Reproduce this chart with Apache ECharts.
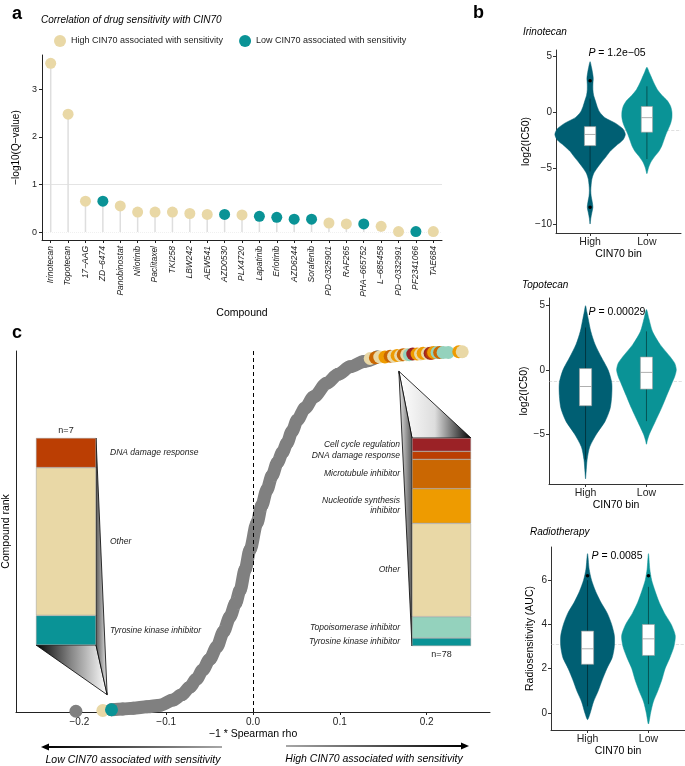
<!DOCTYPE html>
<html><head><meta charset="utf-8">
<script src="https://cdn.jsdelivr.net/npm/echarts@6.0.0/dist/echarts.min.js"></script>
<style>html,body{margin:0;padding:0;background:#fff}#c{width:685px;height:766px}</style>
</head><body><div id="c"></div>
<script>
// ================= DATA =================
// Panel a
const compounds = ['Irinotecan','Topotecan','17−AAG','ZD−6474','Panobinostat','Nilotinib','Paclitaxel','TKI258','LBW242','AEW541','AZD0530','PLX4720','Lapatinib','Erlotinib','AZD6244','Sorafenib','PD−0325901','RAF265','PHA−665752','L−685458','PD−0332991','PF2341066','TAE684'];
const negLog10Q = [3.55,2.48,0.65,0.65,0.55,0.42,0.42,0.42,0.39,0.37,0.37,0.36,0.33,0.31,0.27,0.27,0.19,0.17,0.17,0.12,0.01,0.01,0.01];
const direction = ['High','High','High','Low','High','High','High','High','High','High','Low','High','Low','Low','Low','Low','High','High','Low','High','High','Low','High'];
const aTicks = [0,1,2,3];
const aSeriesNames = ['High CIN70 associated with sensitivity','Low CIN70 associated with sensitivity'];

// Panel b (violin density profiles: [value, relative density])
const binCategories = ['High','Low'];
const irinoHighProfile = [[4.5,0],[4.0,0.04],[3.5,0.07],[3.0,0.09],[2.5,0.08],[2.0,0.08],[1.5,0.1],[1.0,0.15],[0.5,0.2],[0.0,0.27],[-0.5,0.42],[-1.0,0.72],[-1.5,0.93],[-2.0,1.0],[-2.5,0.93],[-3.0,0.74],[-3.5,0.57],[-4.0,0.45],[-4.5,0.32],[-5.0,0.2],[-5.5,0.1],[-6.0,0.05],[-6.5,0.03],[-7.0,0.02],[-7.5,0.03],[-8.0,0.06],[-8.5,0.08],[-9.0,0.05],[-9.5,0.02],[-10.0,0]];
const irinoLowProfile = [[4.0,0],[3.5,0.1],[3.0,0.2],[2.5,0.3],[2.0,0.42],[1.5,0.6],[1.0,0.82],[0.5,0.95],[0.0,1.0],[-0.5,1.0],[-1.0,0.95],[-1.5,0.86],[-2.0,0.76],[-2.5,0.68],[-3.0,0.6],[-3.5,0.48],[-4.0,0.3],[-4.5,0.15],[-5.0,0.06],[-5.5,0]];
const topoHighProfile = [[5.0,0],[4.5,0.05],[4.0,0.1],[3.0,0.2],[2.0,0.36],[1.0,0.6],[0.0,0.86],[-1.0,1.0],[-2.0,1.0],[-3.0,0.94],[-4.0,0.75],[-5.0,0.42],[-6.0,0.16],[-7.0,0.06],[-8.0,0.02],[-8.5,0]];
const topoLowProfile = [[4.7,0],[4.0,0.08],[3.0,0.2],[2.0,0.45],[1.0,0.8],[0.5,0.95],[0.0,1.0],[-0.5,0.95],[-1.0,0.86],[-2.0,0.68],[-3.0,0.5],[-4.0,0.3],[-5.0,0.1],[-5.5,0.03],[-5.8,0]];
const radioHighProfile = [[7.2,0],[6.5,0.06],[6.0,0.15],[5.5,0.3],[5.0,0.5],[4.5,0.74],[4.0,0.9],[3.5,1.0],[3.0,1.0],[2.5,0.92],[2.0,0.72],[1.5,0.55],[1.0,0.4],[0.5,0.22],[0.0,0.1],[-0.3,0]];
const radioLowProfile = [[7.2,0],[6.5,0.05],[6.0,0.12],[5.5,0.25],[5.0,0.4],[4.5,0.6],[4.0,0.85],[3.5,1.0],[3.0,0.95],[2.5,0.8],[2.0,0.62],[1.5,0.5],[1.0,0.35],[0.5,0.18],[0.0,0.08],[-0.5,0]];
// box stats: [whiskerLow, q1, median, q3, whiskerHigh]
const irinoHighBox = [-5.3,-3.0,-2.0,-1.3,1.2];
const irinoLowBox = [-4.2,-1.8,-0.5,0.5,2.3];
const topoHighBox = [-7.0,-2.8,-1.3,0.1,3.3];
const topoLowBox = [-4.0,-1.5,-0.2,1.0,3.0];
const radioHighBox = [0.3,2.2,2.9,3.7,6.0];
const radioLowBox = [0.4,2.6,3.35,4.0,5.7];
const irinoHighOutliers = [2.8,-8.5];
const irinoLowOutliers = [];
const topoHighOutliers = [];
const topoLowOutliers = [];
const radioHighOutliers = [6.2];
const radioLowOutliers = [6.2];
const refValues = [-1.65,-0.9,3.1];
const pTexts = ['1.2e−05','0.00029','0.0085'];
const irinoTicks = [-10,-5,0,5];
const topoTicks = [-5,0,5];
const radioTicks = [0,2,4,6];

// Panel c
const bandRho  = [-0.163,-0.150,-0.138,-0.122,-0.107,-0.092,-0.082,-0.073,-0.065,-0.058,-0.050,-0.0415,-0.034,-0.0265,-0.020,-0.015,-0.009,-0.0035,0.0046,0.010,0.016,0.022,0.028,0.034,0.039,0.045,0.051,0.060,0.070,0.085,0.098,0.112,0.128,0.143];
const bandRank = [3,4,5,7,9,16,23,33,44,56,70,87,107,127,145,162,190,216,252,275,296,315,332,346,358,374,389,405,420,438,450,460,467,473];
const loneRho = [-0.204];
const loneRank = [1];
const sigRho  = [-0.173,-0.163,0.135,0.141,0.146,0.152,0.158,0.162,0.166,0.170,0.173,0.177,0.180,0.184,0.189,0.193,0.196,0.201,0.204,0.206,0.208,0.212,0.215,0.219,0.225,0.237,0.241];
const sigRank = [2,3,471,472,473,473,474,474,475,475,476,476,476,477,477,477,478,478,478,478,479,479,479,479,479,480,480];
const sigCat = ['Other','Tyrosine kinase inhibitor','Other','Microtubule inhibitor','Other','Nucleotide synthesis inhibitor','Microtubule inhibitor','Other','Nucleotide synthesis inhibitor','Other','Microtubule inhibitor','Other','Topoisomerase inhibitor','Cell cycle regulation','Nucleotide synthesis inhibitor','Other','Nucleotide synthesis inhibitor','Other','Cell cycle regulation','DNA damage response','Nucleotide synthesis inhibitor','Topoisomerase inhibitor','Microtubule inhibitor','Topoisomerase inhibitor','Topoisomerase inhibitor','Nucleotide synthesis inhibitor','Other'];
const cTicks = [-0.2,-0.1,0,0.1,0.2];
const cTickLabels = ['−0.2','−0.1','0.0','0.1','0.2'];
const leftCats = ['Tyrosine kinase inhibitor','Other','DNA damage response'];
const leftCounts = [1,5,1];
const rightCats = ['Tyrosine kinase inhibitor','Topoisomerase inhibitor','Other','Nucleotide synthesis inhibitor','Microtubule inhibitor','DNA damage response','Cell cycle regulation'];
const rightCounts = [3,8,35,13,11,3,5];
const totalCompounds = 481;

// ================= STYLE / LAYOUT =================
const FONT = "'Liberation Sans', Arial, Helvetica, sans-serif";
const AX = '#222';
const tan = '#e9d8a6', teal = '#0a9396', darkTeal = '#005f73';
const catColors = {'Other':'#e9d8a6','Tyrosine kinase inhibitor':'#0a9396','DNA damage response':'#bb3e03','Cell cycle regulation':'#9b2226','Microtubule inhibitor':'#ca6702','Nucleotide synthesis inhibitor':'#ee9b00','Topoisomerase inhibitor':'#94d2bd'};
const catLabel = c => c === 'Nucleotide synthesis inhibitor' ? 'Nucleotide synthesis\ninhibitor' : c;

const leftBarRect = {left:36, top:438, width:60, height:207};
const rightBarRect = {left:412, top:438, width:59, height:208};

const chart = echarts.init(document.getElementById('c'), null, {renderer:'canvas'});

function axisBase(extra, color){
  const c = color || AX;
  return Object.assign({
    axisLine:{show:true, onZero:false, lineStyle:{color:c, width:1}},
    axisTick:{show:true, length:3, lineStyle:{color:c}},
    splitLine:{show:false},
    nameTextStyle:{fontSize:10.5, color:'#000', fontFamily:FONT}
  }, extra);
}

// ---- grids ----
const grids = [
  {left:42, top:55, width:400, height:185},     // a
  {left:556, top:50, width:125, height:183},    // b1
  {left:549, top:298, width:134, height:186},   // b2
  {left:551, top:547, width:134, height:183},   // b3
  {left:16, top:351, width:474, height:361},    // c
  Object.assign({}, leftBarRect),               // c left bar
  Object.assign({}, rightBarRect)               // c right bar
].map(g => Object.assign(g, {containLabel:false, outerBoundsMode:'none'}));

const xAxes = [], yAxes = [];
// a
xAxes.push(axisBase({gridIndex:0, type:'category', data:compounds, boundaryGap:true,
  axisTick:{show:true, length:3, alignWithLabel:true, lineStyle:{color:AX}},
  axisLabel:{rotate:90, interval:0, fontSize:8.5, fontStyle:'italic', color:'#222', margin:6, fontFamily:FONT},
  name:'Compound', nameLocation:'middle', nameGap:68}));
yAxes.push(axisBase({gridIndex:0, type:'value', min:-0.168, max:3.726,
  axisTick:{show:true, length:3, customValues:aTicks, lineStyle:{color:AX}},
  axisLabel:{customValues:aTicks, fontSize:9, color:'#222', margin:5, fontFamily:FONT},
  name:'−log10(Q−value)', nameLocation:'middle', nameGap:19, nameTextStyle:{fontSize:10, color:'#000', fontFamily:FONT}}));
// b
const bYTicks = [irinoTicks, topoTicks, radioTicks];
const bYRange = [[-10.8,5.54],[-8.9,5.6],[-0.77,7.5]];
const bYNames = ['log2(IC50)','log2(IC50)','Radiosensitivity (AUC)'];
const bYGap = [22,17,15];
for (let k=0;k<3;k++){
  xAxes.push(axisBase({gridIndex:k+1, type:'value', min:0.4, max:2.6,
    axisTick:{show:true, length:3, customValues:[1,2], lineStyle:{color:'#333'}},
    axisLabel:{customValues:[1,2], formatter:v=>binCategories[Math.round(v)-1], fontSize:10.5, color:'#222', margin:4, fontFamily:FONT},
    name:'CIN70 bin', nameLocation:'middle', nameGap:14}, '#333'));
  yAxes.push(axisBase({gridIndex:k+1, type:'value', min:bYRange[k][0], max:bYRange[k][1],
    axisTick:{show:true, length:3, customValues:bYTicks[k], lineStyle:{color:'#333'}},
    axisLabel:{customValues:bYTicks[k], formatter:v=>String(v).replace('-','−'), fontSize:10, color:'#222', margin:4, fontFamily:FONT},
    name:bYNames[k], nameLocation:'middle', nameGap:bYGap[k]}, '#333'));
}
// c
xAxes.push(axisBase({gridIndex:4, type:'value', min:-0.273, max:0.273,
  axisTick:{show:true, length:3, customValues:cTicks, lineStyle:{color:AX}},
  axisLabel:{customValues:cTicks, formatter:v=>cTickLabels[cTicks.findIndex(t=>Math.abs(t-v)<1e-9)], fontSize:10, color:'#222', margin:5, fontFamily:FONT},
  name:'−1 * Spearman rho', nameLocation:'middle', nameGap:17}));
yAxes.push(axisBase({gridIndex:4, type:'value', min:0, max:totalCompounds,
  axisTick:{show:false}, axisLabel:{show:false},
  name:'Compound rank', nameLocation:'middle', nameGap:4}));
// c bars
xAxes.push({gridIndex:5, type:'category', data:['n=' + leftCounts.reduce((a,b)=>a+b,0)], position:'top',
  axisLine:{show:false}, axisTick:{show:false}, axisLabel:{fontSize:9, color:'#222', margin:3, fontFamily:FONT}});
yAxes.push({gridIndex:5, type:'value', min:0, max:leftCounts.reduce((a,b)=>a+b,0), show:false});
xAxes.push({gridIndex:6, type:'category', data:['n=' + rightCounts.reduce((a,b)=>a+b,0)], position:'bottom',
  axisLine:{show:false}, axisTick:{show:false}, axisLabel:{fontSize:9, color:'#222', margin:4, fontFamily:FONT}});
yAxes.push({gridIndex:6, type:'value', min:0, max:rightCounts.reduce((a,b)=>a+b,0), show:false});

// ---- series ----
const series = [];
series.push({type:'bar', name:'stem', xAxisIndex:0, yAxisIndex:0, data:negLog10Q, barWidth:1.5, silent:true,
  itemStyle:{color:'#dedede'}, z:1,
  markLine:{silent:true, symbol:'none', label:{show:false}, z:0,
    data:[{yAxis:1, lineStyle:{color:'#e4e4e4', width:1, type:'solid'}},
          {yAxis:0, lineStyle:{color:'#f0f0f0', width:1, type:'dotted'}}]}});
['High','Low'].forEach((d,i)=>{
  series.push({type:'scatter', name:aSeriesNames[i], xAxisIndex:0, yAxisIndex:0, symbolSize:11, z:6,
    itemStyle:{color: i===0 ? tan : teal, opacity:1},
    data: negLog10Q.map((v,j)=> direction[j]===d ? v : '-')});
});

// violins
const vProfiles = [[irinoHighProfile, irinoLowProfile],[topoHighProfile, topoLowProfile],[radioHighProfile, radioLowProfile]];
const vBoxes = [[irinoHighBox, irinoLowBox],[topoHighBox, topoLowBox],[radioHighBox, radioLowBox]];
const vOutliers = [[irinoHighOutliers, irinoLowOutliers],[topoHighOutliers, topoLowOutliers],[radioHighOutliers, radioLowOutliers]];
const vHalfWidth = [[0.62,0.44],[0.43,0.49],[0.44,0.44]];
const vColors = [darkTeal, teal];
for (let k=0;k<3;k++){
  series.push({type:'custom', name:'violin'+k, xAxisIndex:k+1, yAxisIndex:k+1, silent:true, z:3,
    data:[[1,0],[2,1]],
    renderItem:(params, api)=>{
      const xc = api.value(0), i = api.value(1);
      const prof = vProfiles[k][i], hw = vHalfWidth[k][i];
      const right = prof.map(p=>api.coord([xc + p[1]*hw, p[0]]));
      const left = prof.slice(1,-1).reverse().map(p=>api.coord([xc - p[1]*hw, p[0]]));
      const b = vBoxes[k][i], bw = 0.1;
      const c = (x,y)=>api.coord([x,y]);
      const w1 = c(xc,b[0]), w2 = c(xc,b[4]);
      const p1 = c(xc-bw,b[3]), p2 = c(xc+bw,b[1]);
      const m1 = c(xc-bw,b[2]), m2 = c(xc+bw,b[2]);
      const children = [
        {type:'polygon', shape:{points:right.concat(left), smooth:0.25}, style:{fill:vColors[i], stroke:vColors[i], lineWidth:0.5}},
        {type:'line', shape:{x1:w1[0],y1:w1[1],x2:w2[0],y2:w2[1]}, style:{stroke:'rgba(0,0,0,0.55)', lineWidth:0.8}},
        {type:'rect', shape:{x:p1[0], y:p1[1], width:p2[0]-p1[0], height:p2[1]-p1[1]}, style:{fill:'#fff', stroke:'#9a9a9a', lineWidth:0.6}},
        {type:'line', shape:{x1:m1[0],y1:m1[1],x2:m2[0],y2:m2[1]}, style:{stroke:'#9a9a9a', lineWidth:0.8}}
      ];
      vOutliers[k][i].forEach(o=>{
        const q = c(xc,o);
        children.push({type:'circle', shape:{cx:q[0], cy:q[1], r:1.8}, style:{fill:'#000'}});
      });
      return {type:'group', children};
    },
    markLine:{silent:true, symbol:'none', label:{show:false}, z:1,
      data:[{yAxis:refValues[k], lineStyle:{color:'rgba(190,190,190,0.6)', width:0.8, type:'dashed'}}]}
  });
}

// panel c curve
series.push({type:'line', name:'band', xAxisIndex:4, yAxisIndex:4, silent:true, z:2,
  data: bandRho.map((r,i)=>[r, bandRank[i]]), showSymbol:false, smooth:0.3, smoothMonotone:'x',
  lineStyle:{color:'#808080', width:13, cap:'round', join:'round'},
  markLine:{silent:true, symbol:'none', label:{show:false},
    data:[{xAxis:0, lineStyle:{color:'#000', width:1, type:[4,3]}}]}});
series.push({type:'scatter', name:'bandPoints', xAxisIndex:4, yAxisIndex:4, silent:true, z:3, symbolSize:13,
  itemStyle:{color:'#808080', opacity:1},
  data: bandRho.map((r,i)=>[r, bandRank[i]]).concat(loneRho.map((r,i)=>[r, loneRank[i]]))});
series.push({type:'scatter', name:'sigPoints', xAxisIndex:4, yAxisIndex:4, silent:true, z:4, symbolSize:13,
  data: sigRho.map((r,i)=>({value:[r, sigRank[i]], itemStyle:{color:catColors[sigCat[i]], opacity:1}}))});

// stacked bars
const barLabelStyle = {fontSize:8.5, fontStyle:'italic', color:'#222', fontFamily:FONT, lineHeight:10};
leftCats.forEach((cat,i)=>{
  series.push({type:'bar', name:'L '+cat, xAxisIndex:5, yAxisIndex:5, stack:'left', barWidth:'100%', silent:true,
    data:[leftCounts[i]], itemStyle:{color:catColors[cat], borderColor:'#999', borderWidth:0.5},
    label:Object.assign({show:true, position:'right', distance:14, formatter:()=>catLabel(cat)}, barLabelStyle)});
});
rightCats.forEach((cat,i)=>{
  series.push({type:'bar', name:'R '+cat, xAxisIndex:6, yAxisIndex:6, stack:'right', barWidth:'100%', silent:true,
    data:[rightCounts[i]], itemStyle:{color:catColors[cat], borderColor:'#999', borderWidth:0.5},
    label:Object.assign({show:true, position:'left', distance:12, align:'right', formatter:()=>catLabel(cat)}, barLabelStyle)});
});

chart.setOption({
  backgroundColor:'#fff',
  animation:false,
  textStyle:{fontFamily:FONT},
  grid:grids, xAxis:xAxes, yAxis:yAxes,
  legend:{data:aSeriesNames, left:54, top:35, itemWidth:12, itemHeight:12, itemGap:16, icon:'circle', selectedMode:false,
    textStyle:{fontSize:9, color:'#222', fontFamily:FONT}, padding:0},
  series
});

// ---- decorations: funnels, arrows, texts ----
const apexL = chart.convertToPixel({xAxisIndex:4, yAxisIndex:4}, [-0.168, 23]);
const apexR = chart.convertToPixel({xAxisIndex:4, yAxisIndex:4}, [0.168, 454]);
const LB = leftBarRect, RB = rightBarRect;
const LG = (stops)=>new echarts.graphic.LinearGradient(0,0,1,0, stops.map((c,i)=>({offset:i/(stops.length-1), color:c})));
const txt = (x,y,text,font,align,extra)=>Object.assign({type:'text', x, y, z:100, silent:true,
  style:{text, font, fill:'#000', align:align||'left', verticalAlign:'middle'}}, extra||{});
const it = s => 'italic ' + s + 'px ' + FONT;

const elements = [
  // left funnel
  {type:'polygon', z:1, silent:true, shape:{points:[[LB.left, LB.top+LB.height],[LB.left+LB.width, LB.top+LB.height], apexL]},
    style:{fill:LG(['#000','#888','#fff']), stroke:'#000', lineWidth:0.8}},
  {type:'polygon', z:1, silent:true, shape:{points:[[LB.left+LB.width, LB.top],[LB.left+LB.width, LB.top+LB.height], apexL]},
    style:{fill:LG(['#555','#eee']), stroke:'#000', lineWidth:0.8}},
  // right funnel
  {type:'polygon', z:1, silent:true, shape:{points:[apexR,[RB.left, RB.top],[RB.left+RB.width, RB.top]]},
    style:{fill:LG(['#fff','#ddd','#000']), stroke:'#000', lineWidth:0.8}},
  {type:'polygon', z:1, silent:true, shape:{points:[apexR,[RB.left, RB.top],[RB.left, RB.top+RB.height]]},
    style:{fill:LG(['#eee','#555']), stroke:'#000', lineWidth:0.8}},
  // arrows
  {type:'line', z:5, silent:true, shape:{x1:48, y1:747, x2:222, y2:747}, style:{stroke:LG(['#000','#aaa']), lineWidth:2}},
  {type:'polygon', z:5, silent:true, shape:{points:[[41,747],[49,743.5],[49,750.5]]}, style:{fill:'#000'}},
  {type:'line', z:5, silent:true, shape:{x1:286, y1:746, x2:462, y2:746}, style:{stroke:LG(['#aaa','#000']), lineWidth:2}},
  {type:'polygon', z:5, silent:true, shape:{points:[[469,746],[461,742.5],[461,749.5]]}, style:{fill:'#000'}},
  txt(133, 760, 'Low CIN70 associated with sensitivity', it(10.5), 'center'),
  txt(374, 759, 'High CIN70 associated with sensitivity', it(10.5), 'center'),
  // panel letters / titles
  txt(12, 14, 'a', 'bold 18px ' + FONT),
  txt(473, 13, 'b', 'bold 18px ' + FONT),
  txt(12, 333, 'c', 'bold 18px ' + FONT),
  txt(41, 20, 'Correlation of drug sensitivity with CIN70', it(10)),
  txt(523, 32, 'Irinotecan', it(10)),
  txt(522, 285, 'Topotecan', it(10)),
  txt(530, 532, 'Radiotherapy', it(10))
];
const pY = [53, 312, 556];
const pX = [617, 617, 617];
pTexts.forEach((p,k)=>{
  elements.push({type:'text', x:pX[k], y:pY[k], z:100, silent:true,
    style:{text:'{i|P} = ' + p, font:'10.5px ' + FONT, fill:'#000', align:'center', verticalAlign:'middle',
      rich:{i:{font:it(10.5), fill:'#000'}}}});
});
chart.setOption({graphic:{elements}});
</script>
</body></html>
